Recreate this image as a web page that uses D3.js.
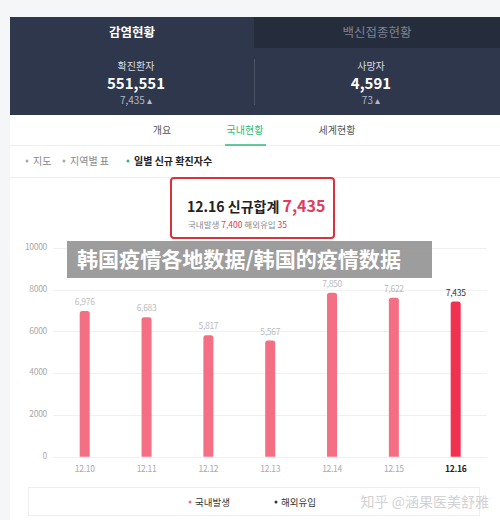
<!DOCTYPE html>
<html><head><meta charset="utf-8">
<script src="https://cdn.jsdelivr.net/npm/d3@7/dist/d3.min.js"></script>
<style>
html,body{margin:0;padding:0;background:#f5f6f8;}
svg{display:block;font-family:"Noto Sans CJK KR","Noto Sans",sans-serif;}
</style></head>
<body>
<svg id="c" width="500" height="520"></svg>
<script>
const dates = ["12.10","12.11","12.12","12.13","12.14","12.15","12.16"];
const newCases = [6976, 6683, 5817, 5567, 7850, 7622, 7435];
const yTicks = [0, 2000, 4000, 6000, 8000, 10000];
const legendLabels = ["국내발생", "해외유입"];

const svg = d3.select("#c");
const fmt = d3.format(",");

// page panel
svg.append("rect").attr("x",10).attr("y",17).attr("width",490).attr("height",503).attr("fill","#ffffff");

// dark header
svg.append("rect").attr("x",10).attr("y",17).attr("width",490).attr("height",98).attr("fill","#2e374b");
svg.append("rect").attr("x",254).attr("y",17).attr("width",246).attr("height",31).attr("fill","#252d3d");
svg.append("text").attr("x",132).attr("y",37).attr("text-anchor","middle").attr("fill","#ffffff")
  .attr("font-size",12.5).attr("font-weight",700).text("감염현황");
svg.append("text").attr("x",377).attr("y",37).attr("text-anchor","middle").attr("fill","#7c8394")
  .attr("font-size",12.5).text("백신접종현황");
svg.append("line").attr("x1",254.5).attr("x2",254.5).attr("y1",59).attr("y2",105).attr("stroke","#4a5366");

const stats = [
  {x:136, label:"확진환자", value:"551,551", delta:"7,435"},
  {x:371, label:"사망자", value:"4,591", delta:"73"}
];
stats.forEach(s=>{
  svg.append("text").attr("x",s.x).attr("y",70).attr("text-anchor","middle").attr("fill","#d9dce2")
    .attr("font-size",10).text(s.label);
  svg.append("text").attr("x",s.x).attr("y",89).attr("text-anchor","middle").attr("fill","#ffffff")
    .attr("font-size",15).attr("font-weight",700).text(s.value);
  svg.append("text").attr("x",s.x).attr("y",104).attr("text-anchor","middle").attr("fill","#b3b9c6")
    .attr("font-size",10).text(s.delta+" ▴");
});

// nav tabs
svg.append("text").attr("x",162).attr("y",134).attr("text-anchor","middle").attr("fill","#555").attr("font-size",10).text("개요");
svg.append("text").attr("x",245).attr("y",134).attr("text-anchor","middle").attr("fill","#2eb87a").attr("font-size",10).text("국내현황");
svg.append("text").attr("x",337).attr("y",134).attr("text-anchor","middle").attr("fill","#555").attr("font-size",10).text("세계현황");
svg.append("line").attr("x1",10).attr("x2",500).attr("y1",145.5).attr("y2",145.5).attr("stroke","#eceef1");
svg.append("line").attr("x1",225).attr("x2",266).attr("y1",145).attr("y2",145).attr("stroke","#2eb87a").attr("stroke-width",1.5);

// sub nav
const sub = [{x:27,t:"지도",b:false},{x:64,t:"지역별 표",b:false},{x:128,t:"일별 신규 확진자수",b:true}];
sub.forEach(s=>{
  svg.append("circle").attr("cx",s.x).attr("cy",161).attr("r",1.5).attr("fill",s.b?"#2eb87a":"#aaa");
  svg.append("text").attr("x",s.x+6).attr("y",165).attr("fill",s.b?"#222":"#888").attr("font-size",10)
    .attr("font-weight",s.b?700:400).text(s.t);
});
svg.append("line").attr("x1",10).attr("x2",500).attr("y1",177.5).attr("y2",177.5).attr("stroke","#eceef1");

// red summary box
svg.append("rect").attr("x",171).attr("y",178).attr("width",163).attr("height",60).attr("rx",3)
  .attr("fill","#fff").attr("stroke","#d8333a").attr("stroke-width",2);
const t1 = svg.append("text").attr("x",187).attr("y",212).attr("font-size",14).attr("fill","#222");
t1.append("tspan").attr("font-weight",600).text("12.16 신규합계 ");
t1.append("tspan").attr("fill","#e03c5c").attr("font-size",16).attr("font-weight",600).text("7,435");
const t2 = svg.append("text").attr("x",188).attr("y",228).attr("font-size",8.5).attr("fill","#888");
t2.append("tspan").text("국내발생 ");
t2.append("tspan").attr("fill","#e03c5c").text("7,400");
t2.append("tspan").text("  해외유입 ");
t2.append("tspan").attr("fill","#e03c5c").text("35");

// chart
const y = d3.scaleLinear().domain([0,10000]).range([456.7,248]);
const x = d3.scaleBand().domain(dates).range([53.8,486.6]).padding(0);
const bw = 10;

const grid = svg.append("g");
grid.selectAll("line").data(yTicks).join("line")
  .attr("x1",53).attr("x2",487).attr("y1",d=>Math.round(y(d))+0.5).attr("y2",d=>Math.round(y(d))+0.5)
  .attr("stroke","#f0f0f2");
const yAxis = svg.append("g").attr("transform","translate(47,0)")
  .call(d3.axisLeft(y).tickValues(yTicks).tickSize(0).tickPadding(0).tickFormat(d3.format("d")));
yAxis.select(".domain").remove();
yAxis.selectAll("text").attr("fill","#aaa").attr("font-size",8.5).attr("dy","0.2em")
  .style("font-family","'Noto Sans CJK KR',sans-serif").style("letter-spacing","-0.3px");

const last = dates.length-1;
const barPath = (d,i)=>{
  const cx = x(dates[i]) + x.bandwidth()/2;
  const x0 = cx - bw/2, x1 = cx + bw/2, yt = y(d), yb = y(0), r = 2.5;
  return `M${x0},${yb}L${x0},${yt+r}Q${x0},${yt} ${x0+r},${yt}L${x1-r},${yt}Q${x1},${yt} ${x1},${yt+r}L${x1},${yb}Z`;
};
svg.append("g").selectAll("path").data(newCases).join("path")
  .attr("d",barPath)
  .attr("fill",(d,i)=>i===last?"#f2304f":"#f46f84");

svg.append("g").selectAll("text").data(newCases).join("text")
  .attr("x",(d,i)=>x(dates[i])+x.bandwidth()/2)
  .attr("y",d=>y(d)-6)
  .attr("text-anchor","middle").attr("font-size",8.5)
  .attr("fill",(d,i)=>i===last?"#333":"#bbb")
  .style("letter-spacing","-0.3px")
  .text(d=>fmt(d));

const xAxis = svg.append("g").attr("transform","translate(0,457)")
  .call(d3.axisBottom(x).tickSize(0).tickPadding(0));
xAxis.select(".domain").remove();
xAxis.selectAll("text").attr("y",9).attr("font-size",8.5)
  .style("font-family","'Noto Sans CJK KR',sans-serif").style("letter-spacing","-0.3px")
  .attr("fill",(d,i)=>i===last?"#222":"#aaa")
  .attr("font-weight",(d,i)=>i===last?700:400);

// legend box
svg.append("rect").attr("x",28.5).attr("y",487.5).attr("width",451).attr("height",28).attr("fill","#fff").attr("stroke","#eceef1");
const lg = [{x:190,c:"#f46f84",t:legendLabels[0]},{x:276,c:"#333",t:legendLabels[1]}];
lg.forEach(l=>{
  svg.append("circle").attr("cx",l.x).attr("cy",502).attr("r",1.5).attr("fill",l.c);
  svg.append("text").attr("x",l.x+5).attr("y",506).attr("font-size",9.5).attr("fill","#333").text(l.t);
});

// watermark
svg.append("text").attr("x",489).attr("y",507).attr("text-anchor","end").attr("font-size",14)
  .attr("fill","#cccccc").attr("fill-opacity",0.9)
  .style("font-family","'Noto Sans CJK SC',sans-serif").text("知乎 @涵果医美舒雅");

// banner overlay
svg.append("rect").attr("x",67).attr("y",241).attr("width",365).attr("height",37).attr("fill","#8c8c8c").attr("fill-opacity",0.85);
svg.append("text").attr("x",77).attr("y",267).attr("font-size",21).attr("font-weight",700).attr("fill","#ffffff")
  .attr("textLength",324).attr("lengthAdjust","spacingAndGlyphs")
  .style("font-family","'Noto Sans CJK SC',sans-serif").text("韩国疫情各地数据/韩国的疫情数据");
</script>
</body></html>
